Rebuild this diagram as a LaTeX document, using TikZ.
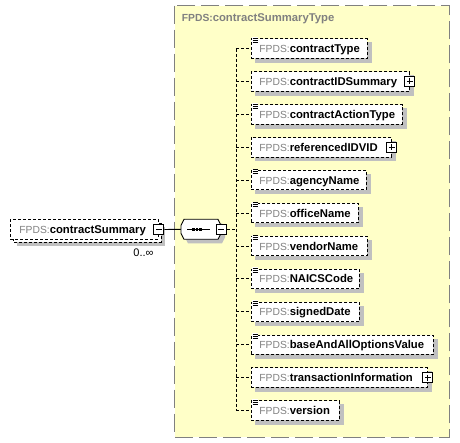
\documentclass[tikz,border=0pt]{standalone}
\usepackage{fontspec}
\setmainfont{Liberation Sans}
\usetikzlibrary{calc}
\definecolor{ybg}{HTML}{FFFFC8}
\definecolor{ybd}{HTML}{808080}
\definecolor{pfxgray}{HTML}{808080}
\definecolor{shd}{HTML}{C0C0C0}
\pgfdeclarelayer{bglayer}
\pgfdeclarelayer{shlayer}
\pgfsetlayers{bglayer,shlayer,main}
\newcommand\pfxtext{{\fontsize{10.3}{12}\selectfont\color{pfxgray}FPDS:}}
\newcommand\nmstyle{\fontsize{11.3}{13}\selectfont\bfseries}
\begin{document}
\begin{tikzpicture}[x=1pt,y=-1pt,
  dashbox/.style={draw=black, dash pattern=on 3pt off 2pt, line width=0.9pt},
  elem/.style={dashbox, fill=white, rectangle, anchor=west, inner xsep=8.3pt, inner ysep=0pt,
    minimum height=19.5pt, text height=8.1pt, text depth=0pt, align=left},
  tog/.style={draw=black, fill=white, line width=1.1pt, rectangle, minimum size=10pt, inner sep=0pt},
  plusicon/.style={tog, path picture={\draw[line width=1pt]
      ([xshift=2pt]path picture bounding box.west) -- ([xshift=-2pt]path picture bounding box.east)
      ([yshift=-2pt]path picture bounding box.north) -- ([yshift=2pt]path picture bounding box.south);}},
  minusicon/.style={tog, path picture={\draw[line width=1pt]
      ([xshift=2pt]path picture bounding box.west) -- ([xshift=-2pt]path picture bounding box.east);}},
  conn/.style={draw=black, line width=0.9pt, dash pattern=on 3pt off 2pt},
  solidconn/.style={draw=black, line width=0.9pt},
  menuline/.style={draw=black, line width=0.8pt}
]
\useasboundingbox (0,0) rectangle (460,443);
\begin{pgfonlayer}{bglayer}
  \draw[fill=ybg, draw=ybd, line width=1pt, dash pattern=on 18pt off 6pt] (174.7,5.7) rectangle (449.7,437);
\end{pgfonlayer}
\node[anchor=west, inner sep=0pt, text=pfxgray] (title) at (181.7,19)
  {\mbox{\fontsize{10.3}{12}\selectfont\bfseries FPDS:\fontsize{11.3}{13}\selectfont contractSummaryType}};

\foreach \i/\nm/\r/\ic in {0/contractType/367/0, 1/contractIDSummary/409/1, 2/contractActionType/402/0,
  3/referencedIDVID/391/1, 4/agencyName/366/0, 5/officeName/358/0, 6/vendorName/367/0,
  7/NAICSCode/359/0, 8/signedDate/359/0, 9/baseAndAllOptionsValue/433/0,
  10/transactionInformation/427/1, 11/version/339/0}{
  \pgfmathsetmacro\cy{48.6+32.9*\i}
  \pgfmathsetmacro\tw{\r-267.3}
  \node[elem, text width=\tw pt] (e\i) at (250.7,\cy) {\mbox{\pfxtext{\nmstyle \nm}}};
  \coordinate (b\i) at (236,\cy);
  \draw[conn] (b\i) -- (e\i.west);
  \begin{pgfonlayer}{shlayer}
    \fill[shd] ([shift={(4pt,-4pt)}]e\i.north west) rectangle ([shift={(4pt,-4pt)}]e\i.south east);
  \end{pgfonlayer}
  \ifnum\ic=1
    \node[plusicon] (p\i) at (e\i.east) {};
  \else
    \fill[white] ([shift={(1pt,1.2pt)}]e\i.north west) rectangle ([shift={(7.6pt,-4.8pt)}]e\i.north west);
    \draw[menuline] ([shift={(1.8pt,0.2pt)}]e\i.north west) -- ++(5pt,0pt);
    \draw[menuline] ([shift={(1.8pt,-1.8pt)}]e\i.north west) -- ++(5pt,0pt);
    \draw[menuline] ([shift={(1.8pt,-3.8pt)}]e\i.north west) -- ++(5pt,0pt);
  \fi
}

% left element (repeating)
\begin{pgfonlayer}{shlayer}
  \fill[shd] (17,227) rectangle (165,246);
  \draw[dashbox, fill=white] (13,223) rectangle (161,242);
\end{pgfonlayer}
\node[elem, text width=130pt, inner xsep=9pt] (cs) at (10,229.5) {\mbox{\pfxtext{\nmstyle contractSummary}}};
\node[minusicon] (csi) at (cs.east) {};
\node[inner sep=0pt, font=\fontsize{11}{13}\selectfont] (occ) at (143.5,252.7) {0..∞};

% sequence compositor
\node[minimum width=40pt, minimum height=20pt, inner sep=0pt] (seq) at (201,229.3) {};
\begin{pgfonlayer}{shlayer}
  \begin{scope}[shift={(seq.center)}, shift={(4,4)}]
    \fill[shd] (-17,-10) -- (17,-10) -- (20,-4) -- (20,4) -- (17,10) -- (-17,10) -- (-20,4) -- (-20,-4) -- cycle;
  \end{scope}
\end{pgfonlayer}
\begin{scope}[shift={(seq.center)}]
  \draw[fill=white, line width=0.9pt] (-17,-10) -- (17,-10) -- (20,-4) -- (20,4) -- (17,10) -- (-17,10) -- (-20,4) -- (-20,-4) -- cycle;
  \draw[line width=0.9pt] (-14,0) -- (9,0);
  \foreach \dx in {-7.5,-4,-0.5} \fill[black] (\dx-1.4,-1.4) rectangle (\dx+1.4,1.4);
\end{scope}
\node[minusicon] (si) at (seq.east) {};
\coordinate (bj) at (236,229.3);

\draw[solidconn] (csi.east) -- (seq.west);
\draw[conn] (si.east) -- (bj);
\draw[conn] (b0) -- (b11);
\end{tikzpicture}
\end{document}
